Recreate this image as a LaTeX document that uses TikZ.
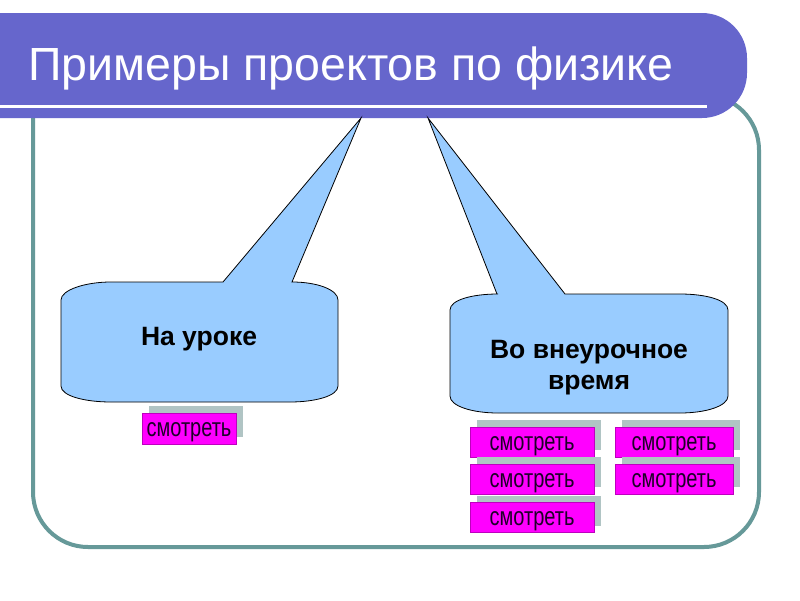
\documentclass[tikz,border=0pt]{standalone}
\usepackage{fontspec}
\setmainfont{Liberation Sans}
\newfontfamily\narrowfont[FakeStretch=0.77]{Liberation Sans}
\usetikzlibrary{shadows}
\definecolor{titlecol}{RGB}{102,102,204}
\definecolor{framecol}{RGB}{102,153,153}
\definecolor{calloutcol}{RGB}{153,204,255}
\definecolor{btncol}{RGB}{255,0,255}
\definecolor{btnedge}{RGB}{190,0,190}
\definecolor{shadowcol}{RGB}{176,196,196}
\definecolor{btntext}{RGB}{30,0,40}
\tikzset{
  callout/.style={fill=calloutcol, draw=black, line width=0.8pt, line join=miter},
  calltext/.style={font=\bfseries\fontsize{26.5}{31}\selectfont, align=center, text=black},
  btn/.style={fill=btncol, draw=btnedge, line width=0.8pt, text=btntext,
    font=\narrowfont\fontsize{26}{28}\selectfont, inner sep=0pt,
    text height=16pt, text depth=0pt,
    copy shadow={shadow xshift=7pt, shadow yshift=7pt, fill=shadowcol, draw=none}},
}
\begin{document}
\begin{tikzpicture}[x=1pt,y=-1pt]
\useasboundingbox[fill=white] (0,0) rectangle (800,600);
% frame
\draw[framecol, line width=4pt, rounded corners=55] (33,40) -- (33,547) -- (759,547) -- (759,95) -- (650,95);
% title bar
\begin{scope}
\clip (0,0) rectangle (800,600);
\fill[titlecol, rounded corners=45] (-60,13) rectangle (747,118);
\end{scope}
\draw[white, line width=3pt] (0,106) -- (707,106);
\node[anchor=base west, text=white, inner sep=0pt, font=\fontsize{46.5}{50}\selectfont] (title) at (28,80) {Примеры проектов по физике};
% left callout
\draw[callout] (223,282) -- (361,118) -- (292,282)
  .. controls (318,282) and (338,290) .. (338,300) -- (338,386)
  .. controls (338,396) and (315,402) .. (290,402) -- (111,402)
  .. controls (85,402) and (61,396) .. (61,386) -- (61,300)
  .. controls (61,290) and (85,282) .. (111,282) -- cycle;
\node[calltext] (lesson) at (199,339) {На уроке};
% right callout
\draw[callout] (497,294) -- (428,118) -- (565,294) -- (680,294)
  .. controls (706,294) and (728,300) .. (728,310) -- (728,396)
  .. controls (728,406) and (706,413) .. (680,413) -- (498,413)
  .. controls (472,413) and (450,406) .. (450,396) -- (450,310)
  .. controls (450,300) and (472,294) .. (498,294) -- cycle;
\node[calltext] (extra) at (589,368) {Во внеурочное\\время};
% buttons
\node[btn, minimum width=94pt, minimum height=31pt] (b0) at (189,428.5) {смотреть};
\node[btn, minimum width=124pt, minimum height=30pt] (b1) at (532,442) {смотреть};
\node[btn, minimum width=124pt, minimum height=30pt] (b2) at (532,479) {смотреть};
\node[btn, minimum width=124pt, minimum height=30pt] (b3) at (532,517.5) {смотреть};
\node[btn, minimum width=118pt, minimum height=30pt] (b4) at (674,442) {смотреть};
\node[btn, minimum width=118pt, minimum height=30pt] (b5) at (674,479) {смотреть};
\end{tikzpicture}
\end{document}
